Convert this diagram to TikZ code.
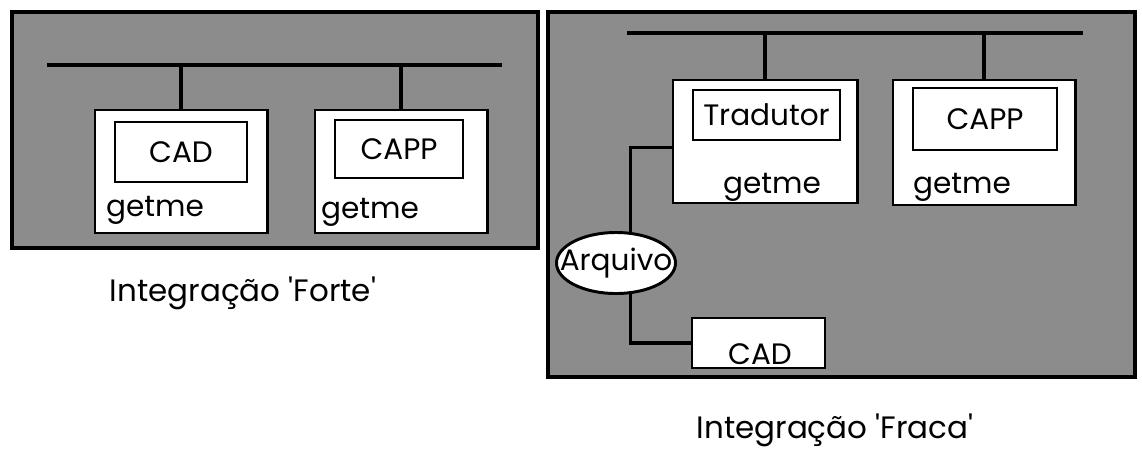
\documentclass[tikz,border=0pt]{standalone}
\usepackage{fontspec}
\setmainfont{Poppins}
\usetikzlibrary{shapes.geometric}
\begin{document}
\begin{tikzpicture}[x=0.025cm,y=-0.025cm,font=\fontsize{21}{25}\selectfont]
  \definecolor{paneldots}{gray}{0.55}
  \tikzset{
    panel/.style={fill=paneldots,draw=black,line width=2.6pt},
    hostbox/.style={draw,fill=white,line width=2.1pt,inner sep=0pt},
    appbox/.style={draw,fill=white,line width=2pt,inner sep=0pt},
    link/.style={line width=2.2pt},
    caption/.style={font=\fontsize{22}{26}\selectfont}
  }
  \useasboundingbox (0,0) rectangle (1142,461);

  % Integracao forte
  \draw[panel] (12,12) rectangle (538,248);
  \coordinate (busLa) at (47,65);
  \coordinate (busLb) at (502,65);
  \draw[link] (busLa) -- (busLb);
  \node[hostbox,minimum width=4.3cm,minimum height=3.075cm] (cadhost) at (181,171.5) {};
  \node[appbox,minimum width=3.3cm,minimum height=1.5cm] (cadapp) at (181,152) {CAD};
  \node (cadgetme) at (155,210) {getme};
  \node[hostbox,minimum width=4.3cm,minimum height=3.075cm] (capphost) at (401,171.5) {};
  \node[appbox,minimum width=3.2cm,minimum height=1.45cm] (cappapp) at (399,149) {CAPP};
  \node (cappgetme) at (370,212) {getme};
  \draw[link] (cadhost.north) -- (cadhost.north |- busLa);
  \draw[link] (capphost.north) -- (capphost.north |- busLa);
  \node[caption] (forte) at (243,293) {Integração \textquotesingle Forte\textquotesingle};

  % Integracao fraca
  \draw[panel] (548,12) rectangle (1135,377);
  \coordinate (busRa) at (627,33);
  \coordinate (busRb) at (1083,33);
  \draw[link] (busRa) -- (busRb);
  \node[hostbox,minimum width=4.6cm,minimum height=3.075cm] (tradhost) at (765,141.5) {};
  \node[appbox,minimum width=3.675cm,minimum height=1.25cm] (tradapp) at (766.5,115) {Tradutor};
  \node (tradgetme) at (772,187) {getme};
  \node[hostbox,minimum width=4.55cm,minimum height=3.125cm] (capphostR) at (984,142.5) {};
  \node[appbox,minimum width=3.6cm,minimum height=1.55cm] (cappappR) at (985,119) {CAPP};
  \node (cappgetmeR) at (962,187) {getme};
  \draw[link] (tradhost.north) -- (tradhost.north |- busRa);
  \draw[link] (capphostR.north) -- (capphostR.north |- busRa);

  \node[ellipse,draw,fill=white,line width=2.1pt,inner sep=0pt,
        minimum width=2.975cm,minimum height=1.525cm,
        label={center:Arquivo}] (arq) at (616,263) {};
  \node[appbox,minimum width=3.325cm,minimum height=1.25cm] (cadfile) at (758.5,343) {};
  \node (cadfiletext) at (760,354) {CAD};
  \draw[link] ([yshift=-0.16cm]tradhost.west) -| (arq.65);
  \draw[link] (arq.-65) |- (cadfile.west);
  \node[caption] (fraca) at (835,430) {Integração \textquotesingle Fraca\textquotesingle};
\end{tikzpicture}
\end{document}
